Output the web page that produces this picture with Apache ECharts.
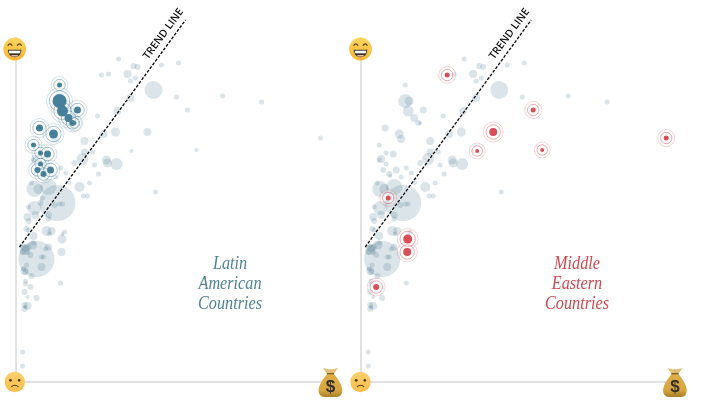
<!DOCTYPE html>
<html>
<head>
<meta charset="utf-8">
<script src="https://cdn.jsdelivr.net/npm/echarts@6/dist/echarts.min.js"></script>
<style>
  html, body { margin: 0; padding: 0; background: #fff; overflow: hidden; }
  #chart-container { width: 705px; height: 405px; }
</style>
</head>
<body>
<div id="chart-container"></div>
<script>
// Countries outside the two highlighted groups
const otherX = [103,118,122,146,163,93,112,120,115,138,115,161,102,82,100,88,69,69,77,67,91,92,101,59,79,83,50,74,54,64,140,68,72,16,19,33,23,42,48,40,20,18,45,40,29,25,47,44,39,12,13,20,33,33,19,13,11,13,31,36,34,18,49,47,21,9,10,7,13,17,15,12,8,18,30,33,26,28,26,11,9,10,8,16,10,10,45,9,12,21,12,9,9,10,7,7,207,246];
const otherY = [323,316,315,317,319,308,308,304,301,292,284,285,271,266,250,248,241,230,230,223,222,219,218,219,217,208,209,199,199,195,190,186,186,199,193,195,193,179,281,243,223,222,214,205,206,179,178,178,177,165,161,167,167,163,174,175,153,152,151,151,148,146,150,148,123,132,134,130,135,137,127,130,135,139,133,135,125,125,115,117,111,110,113,106,101,98,99,90,85,84,76,77,73,75,30,16,286,280];
const otherSize = [2.5,3,3,2.5,2.5,2.5,4,2.5,2.5,9,4,2.5,4,2.5,4.5,4,4,3.5,2.5,6,4.5,4.5,6,3,2.5,2.5,2.5,2.5,2,5,2.5,2.5,2.5,2.5,8,8,5,18,4.5,4,4,2.5,2.5,2.5,2,3,2.5,2.5,3,4,3,4,3.5,2.5,7,2.5,3,2.5,5,4,2.5,4,2.5,2,18,5,4,3,3,4.5,3,3,3,2.5,2.5,3.5,2.5,2.5,4,2.5,4,3,2.5,3,2.5,2.5,2.5,3,2,3,4,3,3,2,2.5,2.5,2.5,2.5];

const latinX = [44,44,47,62,53,57,59,24,38,18,25,32,25,22,28,35];
const latinY = [297,281,271,272,264,259,259,254,248,237,229,228,218,212,208,212];
const latinSize = [2.5,7,5.5,3.5,4,3,2,3.5,4.5,2.5,2.5,3.5,2.5,3,3,3.5];

const mideastX = [86,172,132,116,181,27,46.5,46,15,305];
const mideastY = [307,272,250,231,232,184,143,130,95,244];
const mideastSize = [2.5,2.5,4,2,2,2.5,4.5,4,3,2.5];

const trendX = [4,170];
const trendY = [135,362];

const latinLines = ['Latin', 'American', 'Countries'];
const mideastLines = ['Middle', 'Eastern', 'Countries'];
const trendLabel = 'TREND LINE';

const GREY = '#4a7a90';
const TEAL = '#47809a';
const RED = '#d94f58';

// The graphic component only knows named shapes, so the icon outlines get registered
const iconPaths = {
    happyEyes: 'M-7,-3.2 Q-4.7,-7.2 -2.4,-3.2 M2.4,-3.2 Q4.7,-7.2 7,-3.2',
    happyMouth: 'M-6.8,0.8 L6.8,0.8 Q6.4,8.2 0,8.2 Q-6.4,8.2 -6.8,0.8 Z',
    sadMouth: 'M-3.6,4.8 Q0,1.8 3.6,4.8',
    bagBody: 'M-3.5,-8.5 C-7,-4 -15,6 -10.5,12.5 Q-9,14.5 -6,14.5 L6,14.5 Q9,14.5 10.5,12.5 C15,6 7,-4 3.5,-8.5 Z',
    bagNeck: 'M-7.5,-14.5 Q-3,-13 0,-13.5 Q3,-13 7.5,-14.5 L3.8,-9 L-3.8,-9 Z'
};
Object.keys(iconPaths).forEach(name => {
    echarts.graphic.registerShape(name, echarts.graphic.extendPath(iconPaths[name], {}));
});

function toPoints(xs, ys, sizes) {
    return xs.map((x, i) => [x, ys[i], sizes[i]]);
}

// Grey bubbles, then the two rings and the solid dot of the highlighted group
function panelSeries(index, grey, hi, color) {
    const base = { type: 'scatter', xAxisIndex: index, yAxisIndex: index, clip: false, silent: true };
    return [
        Object.assign({}, base, {
            z: 2,
            data: grey,
            symbolSize: d => d[2] * 2,
            itemStyle: { color: GREY, opacity: 0.2 }
        }),
        Object.assign({}, base, {
            z: 3,
            data: hi,
            symbolSize: d => (d[2] + 6) * 2,
            itemStyle: { color: 'rgba(255,255,255,0.4)', borderColor: color, borderWidth: 0.6, opacity: 0.4 }
        }),
        Object.assign({}, base, {
            z: 4,
            data: hi,
            symbolSize: d => (d[2] + 3.2) * 2,
            itemStyle: { color: 'rgba(255,255,255,0.4)', borderColor: color, borderWidth: 0.7, opacity: 0.7 }
        }),
        Object.assign({}, base, {
            z: 5,
            data: hi,
            symbolSize: d => d[2] * 2,
            itemStyle: { color: color, opacity: 1 }
        }),
        {
            type: 'line',
            z: 6,
            xAxisIndex: index,
            yAxisIndex: index,
            clip: false,
            silent: true,
            symbol: 'none',
            data: trendX.map((x, i) => [x, trendY[i]]),
            lineStyle: { color: '#000', width: 1.3, type: [3, 1.6] }
        }
    ];
}

function happyFace(cx, cy) {
    return {
        type: 'group', x: cx, y: cy, silent: true, z: 100,
        children: [
            { type: 'circle', z: 100, shape: { r: 11.4 }, style: { fill: new echarts.graphic.LinearGradient(0, 0, 0, 1, [{ offset: 0, color: '#fdd663' }, { offset: 1, color: '#f8b52f' }]) } },
            { type: 'happyEyes', z: 101, style: { fill: 'none', stroke: '#5a4626', lineWidth: 1.2 } },
            { type: 'happyMouth', z: 101, style: { fill: '#3b3530' } },
            { type: 'rect', z: 102, shape: { x: -5.6, y: 1.7, width: 11.2, height: 2.6 }, style: { fill: '#fff' } },
            { type: 'rect', z: 102, shape: { x: -3.2, y: 6, width: 6.4, height: 1.6 }, style: { fill: '#e8b7a0' } }
        ]
    };
}

function sadFace(cx, cy) {
    return {
        type: 'group', x: cx, y: cy, silent: true, z: 100,
        children: [
            { type: 'circle', z: 100, shape: { r: 10.2 }, style: { fill: new echarts.graphic.LinearGradient(0, 0, 0, 1, [{ offset: 0, color: '#fccf6c' }, { offset: 1, color: '#f8bd4c' }]) } },
            { type: 'circle', z: 101, shape: { cx: -4.3, cy: -1.7, r: 1.4 }, style: { fill: '#4b3a20' } },
            { type: 'circle', z: 101, shape: { cx: 4.3, cy: -1.7, r: 1.4 }, style: { fill: '#4b3a20' } },
            { type: 'sadMouth', z: 101, style: { fill: 'none', stroke: '#4b3a20', lineWidth: 1.1 } }
        ]
    };
}

function moneyBag(cx, cy) {
    return {
        type: 'group', x: cx, y: cy, silent: true, z: 100,
        children: [
            { type: 'bagBody', z: 100, style: { fill: new echarts.graphic.LinearGradient(0, 0, 0, 1, [{ offset: 0, color: '#dcae48' }, { offset: 0.7, color: '#d8a63e' }, { offset: 1, color: '#a97f2a' }]) } },
            { type: 'bagNeck', z: 101, style: { fill: '#e2c27a' } },
            { type: 'rect', z: 102, shape: { x: -3.6, y: -9.6, width: 7.2, height: 1.5 }, style: { fill: '#8a6526' } },
            { type: 'text', z: 102, style: { x: 0, y: 4.8, text: '$', fill: '#33302c', font: 'bold 17px "Liberation Sans"', align: 'center', verticalAlign: 'middle' } }
        ]
    };
}

function groupLabel(cx, lines, color) {
    return lines.map((line, i) => ({
        type: 'text', silent: true, z: 100, x: cx, y: 264.5 + i * 20, scaleX: 0.9,
        style: {
            x: 0, y: 0, text: line, fill: color,
            font: 'italic 18px "Liberation Serif"', align: 'center', verticalAlign: 'middle'
        }
    }));
}

function trendText(cx) {
    return {
        type: 'text', silent: true, z: 100, x: cx, y: 34, rotation: 53.5 * Math.PI / 180,
        style: { x: 0, y: 0, text: trendLabel, fill: '#111', font: '600 10.5px "Open Sans"', align: 'center', verticalAlign: 'middle' }
    };
}

const offsets = [15.5, 361.2];

const axisLine = { show: true, lineStyle: { color: '#e2e2e2', width: 2 } };
const plainAxis = {
    type: 'value', min: 0, axisLine: axisLine,
    axisTick: { show: false }, axisLabel: { show: false }, splitLine: { show: false }
};

const myChart = echarts.init(document.getElementById('chart-container'));

const others = toPoints(otherX, otherY, otherSize);
const latin = toPoints(latinX, latinY, latinSize);
const mideast = toPoints(mideastX, mideastY, mideastSize);

myChart.setOption({
    animation: false,
    backgroundColor: '#fff',
    grid: offsets.map(left => ({ left: left, top: 38, width: 315, height: 344 })),
    xAxis: offsets.map((_, i) => Object.assign({}, plainAxis, { gridIndex: i, max: 315 })),
    yAxis: offsets.map((_, i) => Object.assign({}, plainAxis, { gridIndex: i, max: 344 })),
    series: [
        ...panelSeries(0, others.concat(mideast), latin, TEAL),
        ...panelSeries(1, others.concat(latin), mideast, RED)
    ],
    graphic: { elements: [
        trendText(163.5),
        trendText(509.5),
        ...groupLabel(230, latinLines, '#4f8497'),
        ...groupLabel(577, mideastLines, '#d2474f'),
        happyFace(14.7, 49),
        happyFace(360.5, 49),
        sadFace(14.8, 382),
        sadFace(360.5, 382),
        moneyBag(330.5, 382.5),
        moneyBag(675, 382.5)
    ] }
});
</script>
</body>
</html>
